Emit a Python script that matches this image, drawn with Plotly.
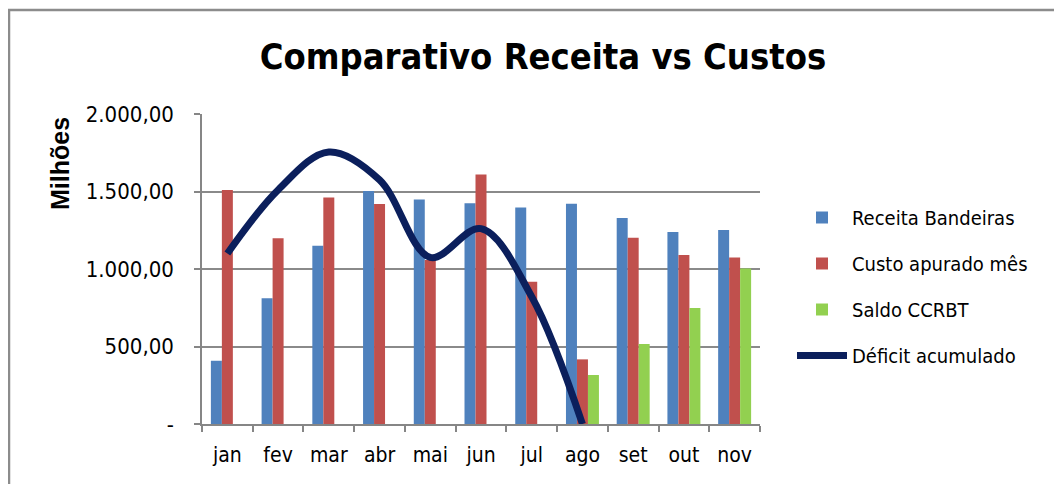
import plotly.graph_objects as go

months = ["jan", "fev", "mar", "abr", "mai", "jun", "jul", "ago", "set", "out", "nov"]
receita = [408, 811, 1150, 1503, 1449, 1424, 1396, 1421, 1329, 1239, 1252]
custo = [1510, 1198, 1462, 1419, 1058, 1609, 918, 417, 1202, 1090, 1075]
saldo = [None, None, None, None, None, None, None, 316, 516, 748, 1004]
deficit = [1100, 1510, 1755, 1575, 1075, 1260, 821, 0, None, None, None]

ytick_vals = [0, 500, 1000, 1500, 2000]
ytick_text = ["-", "500,00", "1.000,00", "1.500,00", "2.000,00"]

FONT = "DejaVu Sans Condensed, DejaVu Sans, sans-serif"

fig = go.Figure()
fig.add_trace(go.Bar(x=months, y=receita, name="Receita Bandeiras", marker_color="#4F81BD",
                     marker_line_width=0, legendgroup="a"))
fig.add_trace(go.Bar(x=months, y=custo, name="Custo apurado mês", marker_color="#C0504D",
                     marker_line_width=0, legendgroup="b"))
fig.add_trace(go.Bar(x=months, y=saldo, name="Saldo CCRBT", marker_color="#92D050",
                     marker_line_width=0, legendgroup="c"))
fig.add_trace(go.Scatter(x=months, y=deficit, name="Déficit acumulado", mode="lines",
                         line=dict(color="#0B1F5C", width=7, shape="spline", smoothing=1),
                         legendgroup="d", cliponaxis=True))

# page body has an 8px margin; work in reference-pixel coordinates and offset
OFF = 8
W, H = 1062 - OFF, 484 - OFF
L, T = 202 - OFF, 114 - OFF
R = W - (760 - OFF)
B = H - (424 - OFF)
pw, ph = W - L - R, H - T - B

def fx(px):
    return (px - OFF - L) / pw

def fy(py):
    return (H - B - (py - OFF)) / ph

fig.update_layout(
    width=W, height=H,
    margin=dict(l=L, r=R, t=T, b=B, autoexpand=False),
    paper_bgcolor="white", plot_bgcolor="white",
    barmode="group", bargap=0.35, bargroupgap=0,
    font=dict(family=FONT, size=20, color="black"),
    title=dict(text="<b>Comparativo Receita vs Custos</b>", x=fx(543), xref="paper",
               xanchor="center", y=1 - (56 - OFF) / H, yanchor="middle",
               font=dict(family=FONT, size=36, color="black")),
    xaxis=dict(showline=True, linecolor="#868686", linewidth=1.5,
               ticks="outside", ticklen=6, tickcolor="#868686", tickwidth=1.5,
               tickson="boundaries", showgrid=False,
               tickfont=dict(family=FONT, size=21), ticklabelstandoff=11),
    yaxis=dict(range=[0, 2000], tickvals=ytick_vals, ticktext=ytick_text,
               showline=True, linecolor="#868686", linewidth=1.5,
               ticks="outside", ticklen=6, tickcolor="#868686", tickwidth=1.5,
               showgrid=True, gridcolor="#8A8A8A", gridwidth=1.5, zeroline=False,
               tickfont=dict(family=FONT, size=22), ticklabelstandoff=16),
    legend=dict(x=fx(792), y=fy(198), xanchor="left", yanchor="top",
                font=dict(family=FONT, size=20), tracegroupgap=17,
                traceorder="grouped", itemwidth=50, bgcolor="rgba(0,0,0,0)"),
    showlegend=True,
)

fig.add_annotation(text="<b>Milhões</b>", textangle=-90, xref="paper", yref="paper",
                   x=fx(60), y=fy(164), xanchor="center", yanchor="middle", showarrow=False,
                   font=dict(family="Liberation Sans, Arial, sans-serif", size=25, color="black"))

fig.add_shape(type="rect", xref="paper", yref="paper",
              x0=fx(9), x1=fx(1100), y0=fy(520), y1=fy(10),
              line=dict(color="#8C8C8C", width=2.5), fillcolor="rgba(0,0,0,0)", layer="below")

fig.write_html("out.html")
